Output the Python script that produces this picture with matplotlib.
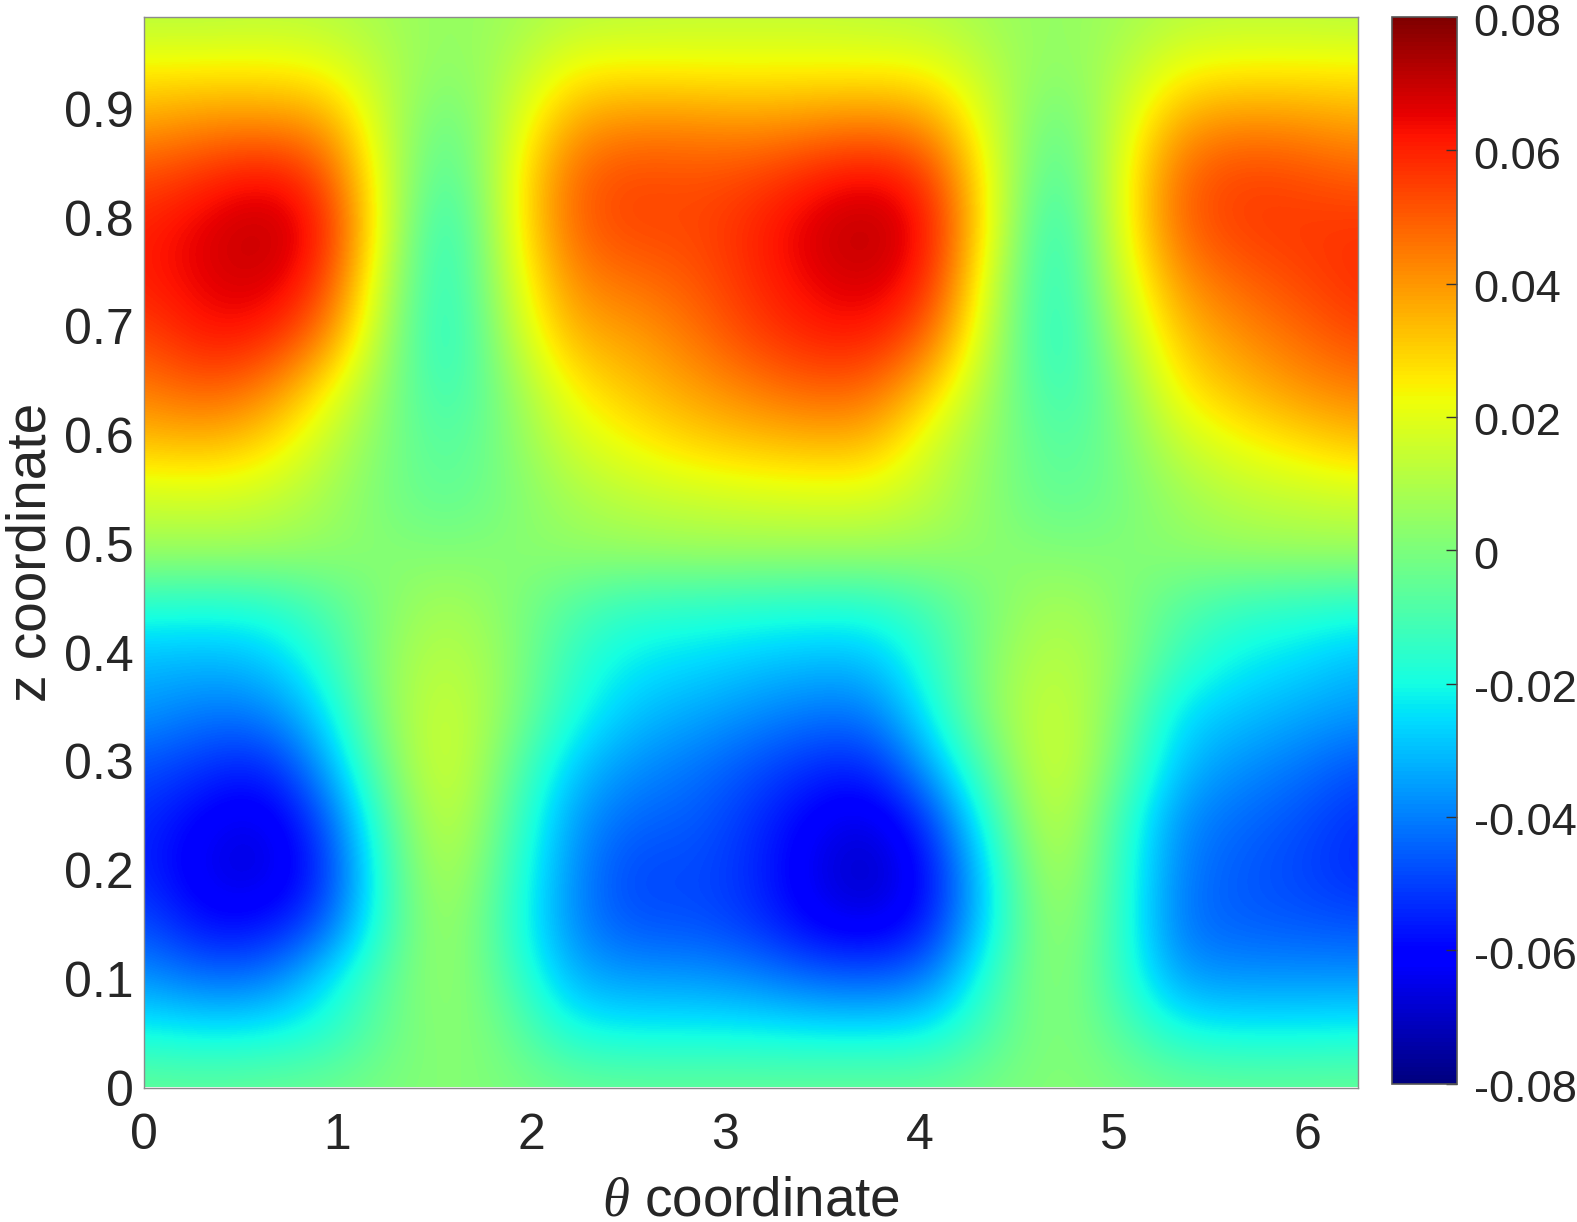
import numpy as np
import matplotlib
matplotlib.use("Agg")
import matplotlib.pyplot as plt
from matplotlib.transforms import ScaledTranslation

plt.rcParams.update({
    "font.family": ["Liberation Sans", "DejaVu Sans"],
    "font.size": 36,
    "mathtext.fontset": "custom",
    "mathtext.it": "Liberation Serif:italic",
    "text.color": "#262626",
    "axes.labelcolor": "#262626",
    "xtick.color": "#262626",
    "ytick.color": "#262626",
})

# values (x 0.001), one row per z, bottom row first
theta = np.linspace(0, 6.26, 21)
z = np.linspace(0, 0.985, 21)
field = np.array([
    [-4, -5, -4, -3, 0, 2, 0, -3, -4, -4, -4, -4, -4, -4, -1, 2, 0, -3, -4, -4, -4],
    [-20, -22, -21, -17, -4, 4, -3, -19, -21, -21, -21, -22, -22, -21, -8, 3, -6, -19, -21, -21, -20],
    [-36, -42, -41, -25, -6, 7, -9, -32, -35, -35, -38, -43, -45, -40, -12, 6, -12, -35, -36, -36, -36],
    [-47, -59, -58, -46, -12, 10, -14, -38, -47, -47, -51, -61, -65, -55, -20, 9, -12, -42, -45, -46, -47],
    [-54, -65, -68, -54, -12, 14, -12, -37, -50, -48, -53, -65, -72, -58, -20, 14, -12, -40, -46, -49, -54],
    [-53, -62, -66, -48, -8, 18, -8, -35, -44, -45, -52, -62, -67, -50, -12, 18, -10, -38, -43, -47, -53],
    [-47, -52, -56, -35, 0, 20, -3, -28, -37, -41, -47, -53, -55, -32, -3, 20, -2, -30, -37, -41, -47],
    [-36, -41, -40, -25, 5, 17, 3, -18, -29, -33, -37, -41, -41, -20, 5, 17, 2, -25, -29, -33, -36],
    [-30, -31, -29, -16, 5, 13, 4, -14, -23, -25, -28, -30, -30, -15, 4, 13, 5, -13, -22, -25, -30],
    [-17, -18, -17, -9, 2, 9, 2, -8, -14, -15, -16, -17, -17, -10, 1, 9, 3, -7, -13, -15, -17],
    [6, 6, 6, 4, 2, 1, 2, 4, 5, 6, 6, 6, 6, 5, 3, 1, 1, 3, 5, 6, 6],
    [16, 17, 15, 8, -1, -6, 0, 8, 13, 15, 17, 18, 18, 12, 2, -6, -2, 6, 12, 14, 16],
    [32, 34, 29, 14, 0, -9, 1, 16, 23, 29, 32, 34, 34, 16, 3, -9, -2, 14, 22, 27, 32],
    [44, 50, 44, 25, 2, -15, 3, 24, 32, 38, 44, 49, 48, 30, 5, -15, -1, 25, 33, 40, 44],
    [53, 62, 60, 44, 6, -21, 10, 35, 38, 45, 54, 60, 61, 47, 9, -21, 6, 32, 41, 47, 53],
    [60, 66, 69, 56, 10, -21, 15, 42, 46, 50, 58, 65, 69, 58, 12, -21, 12, 40, 48, 53, 58],
    [60, 67, 72, 62, 15, -21, 19, 48, 54, 53, 59, 68, 73, 62, 18, -21, 17, 48, 55, 56, 57],
    [53, 58, 64, 54, 15, -14, 19, 48, 54, 52, 54, 60, 65, 56, 18, -14, 17, 48, 55, 53, 50],
    [38, 42, 42, 40, 13, -7, 15, 38, 42, 42, 40, 42, 44, 40, 15, -7, 14, 38, 42, 41, 38],
    [25, 25, 25, 23, 11, 2, 10, 24, 25, 24, 24, 24, 24, 23, 11, 2, 10, 23, 25, 25, 25],
    [11, 11, 12, 11, 8, 4, 7, 11, 12, 13, 13, 13, 12, 11, 7, 4, 7, 11, 12, 12, 11],
]) / 1000.0

xticks = [0, 1, 2, 3, 4, 5, 6]
yticks = [0, 0.1, 0.2, 0.3, 0.4, 0.5, 0.6, 0.7, 0.8, 0.9]
yticklabels = ["0", "0.1", "0.2", "0.3", "0.4", "0.5", "0.6", "0.7", "0.8", "0.9"]
cticks = [-0.08, -0.06, -0.04, -0.02, 0, 0.02, 0.04, 0.06, 0.08]
cticklabels = ["-0.08", "-0.06", "-0.04", "-0.02", "0", "0.02", "0.04", "0.06", "0.08"]

W, H = 1577, 1222
fig = plt.figure(figsize=(W / 100, H / 100), dpi=100)
ax = fig.add_axes([143.5 / W, 1 - 1087.5 / H, (1358 - 143.5) / W, (1087.5 - 16.5) / H])
cax = fig.add_axes([1391.5 / W, 1 - 1083.5 / H, (1457 - 1391.5) / W, (1083.5 - 17) / H])

dx = theta[1] - theta[0]
dz = z[1] - z[0]
im = ax.imshow(field, origin="lower", aspect="auto", cmap="jet", vmin=-0.08, vmax=0.08,
               interpolation="bicubic",
               extent=[theta[0] - dx / 2, theta[-1] + dx / 2, z[0] - dz / 2, z[-1] + dz / 2])
ax.set_xlim(theta[0], theta[-1])
ax.set_ylim(z[0], z[-1])
ax.set_xticks(xticks)
ax.set_yticks(yticks)
ax.set_yticklabels(yticklabels)
ax.tick_params(length=0, pad=7)
ax.tick_params(axis="x", pad=18.5)
ax.set_xlabel(r"$\theta$ coordinate", fontsize=39.5, labelpad=12)
ax.set_ylabel("z coordinate", fontsize=39.5, labelpad=5)
for s in ax.spines.values():
    s.set_color("#8c8c8c")
    s.set_linewidth(1)

cb = fig.colorbar(im, cax=cax)
cb.set_ticks(cticks)
cb.set_ticklabels(cticklabels)
cax.tick_params(direction="in", length=8, width=1, pad=12, color="#333333", labelsize=32.6)
# colorbar labels sit a little below their ticks in the original
down = ScaledTranslation(0, -7 / 100, fig.dpi_scale_trans)
for lab in cax.get_yticklabels():
    lab.set_verticalalignment("center")
    lab.set_transform(lab.get_transform() + down)
cb.outline.set_edgecolor("#555555")
cb.outline.set_linewidth(1.2)

fig.savefig("out.png", dpi=100, facecolor="white")
